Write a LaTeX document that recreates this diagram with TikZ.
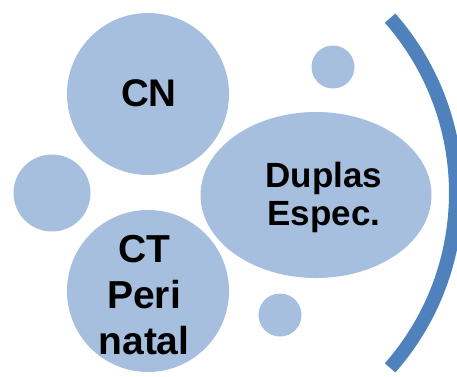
\documentclass[tikz,border=0pt]{standalone}
\usepackage{fontspec}
\setmainfont{Liberation Sans}
\usetikzlibrary{shapes.geometric}
\definecolor{bubble}{HTML}{A7BFDE}
\definecolor{ring}{HTML}{4F81BD}
\tikzset{
  blob/.style={circle, fill=bubble, draw=none, inner sep=0pt},
  oval/.style={ellipse, fill=bubble, draw=none, inner sep=0pt},
  lab/.style={text=black, font=\bfseries, align=center, inner sep=0pt},
  bracket/.style={draw=ring, line width=14pt, line cap=butt},
}
\begin{document}
\begin{tikzpicture}[x=1pt,y=-1pt]
  \useasboundingbox (0,0) rectangle (457,376);
  % bubbles
  \node[blob, minimum size=162pt] (cnb) at (148,94) {};
  \node[blob, minimum size=43pt] (dotA) at (333,67) {};
  \node[blob, minimum size=77pt] (dotB) at (52,193) {};
  \node[oval, minimum width=231pt, minimum height=166pt] (dupb) at (316,195) {};
  \node[blob, minimum size=162pt] (ctb) at (148,291) {};
  \node[blob, minimum size=43pt] (dotC) at (280,315) {};
  % texts
  \node[lab, font=\bfseries\fontsize{38.5}{46}\selectfont] (cn) at (149,93) {CN};
  \node[lab, font=\bfseries\fontsize{35}{38}\selectfont] (dup) at (324,197) {Duplas\\Espec.};
  \node[lab, font=\bfseries\fontsize{39}{46}\selectfont] (ct) at (144,295) {CT\\Peri\\natal};
  % right bracket
  \coordinate (rc) at (191,193);
  \draw[bracket] (rc) ++(41.3:265) arc[start angle=41.3, end angle=-41.3, radius=265];
\end{tikzpicture}
\end{document}
